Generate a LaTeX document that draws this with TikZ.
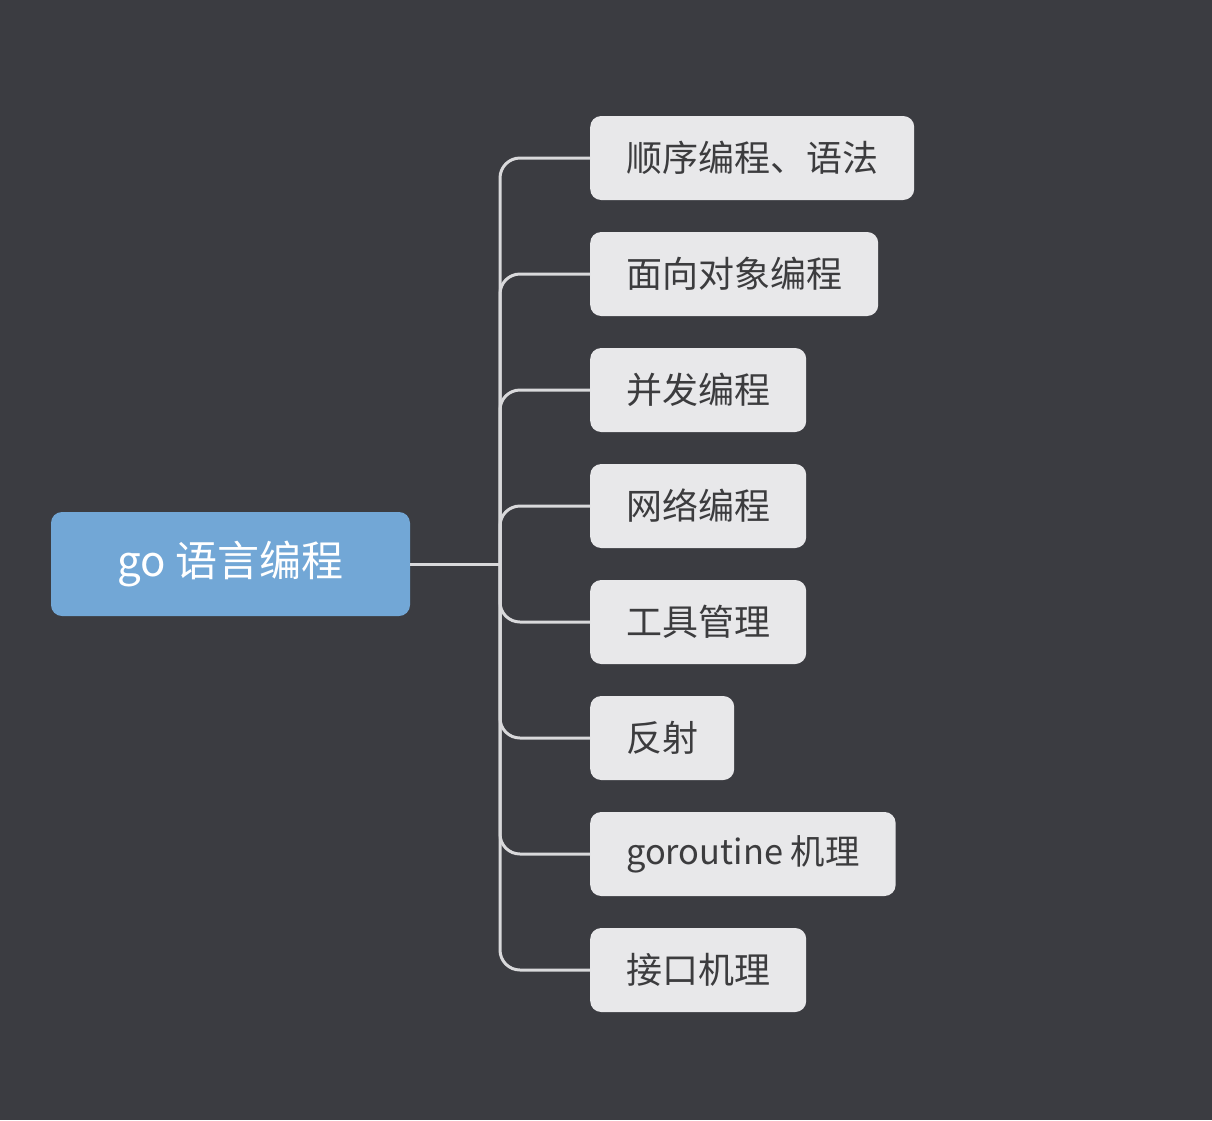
\documentclass[tikz,border=0pt]{standalone}
\usepackage{fontspec}
\setmainfont{Noto Sans CJK SC}
\definecolor{bg}{HTML}{3B3C41}
\definecolor{rootfill}{HTML}{72A7D6}
\definecolor{childfill}{HTML}{E8E8EA}
\definecolor{childtext}{HTML}{3C3C3E}
\definecolor{linec}{HTML}{D9D9DB}
\begin{document}
\begin{tikzpicture}[x=1pt,y=-1pt,
  rootbox/.style={fill=rootfill,rounded corners=11pt,minimum width=359pt,minimum height=104pt,
    text=white,font=\fontsize{42}{46}\selectfont,inner sep=0pt},
  childbox/.style={fill=childfill,rounded corners=11pt,minimum height=84pt,anchor=west,
    inner xsep=36pt,inner ysep=0pt,text=childtext,font=\fontsize{36}{40}\selectfont},
  conn/.style={draw=linec,line width=3pt,rounded corners=20pt}]
\fill[bg] (0,0) rectangle (1212,1120);
\useasboundingbox (0,0) rectangle (1212,1120);
\node[rootbox] (root) at (230.5,564) {go 语言编程};
\node[childbox] (c1) at (590,158) {顺序编程、语法};
\node[childbox] (c2) at (590,274) {面向对象编程};
\node[childbox] (c3) at (590,390) {并发编程};
\node[childbox] (c4) at (590,506) {网络编程};
\node[childbox] (c5) at (590,622) {工具管理};
\node[childbox] (c6) at (590,738) {反射};
\node[childbox,font=\fontsize{34.4}{40}\selectfont] (c7) at (590,854) {goroutine 机理};
\node[childbox] (c8) at (590,970) {接口机理};
\coordinate (j) at (500,564);
\draw[conn] (root.east) -- (j);
\foreach \c in {c1,c2,c3,c4,c5,c6,c7,c8}{
  \draw[conn] (j) |- (\c.west);
}
\end{tikzpicture}
\end{document}
